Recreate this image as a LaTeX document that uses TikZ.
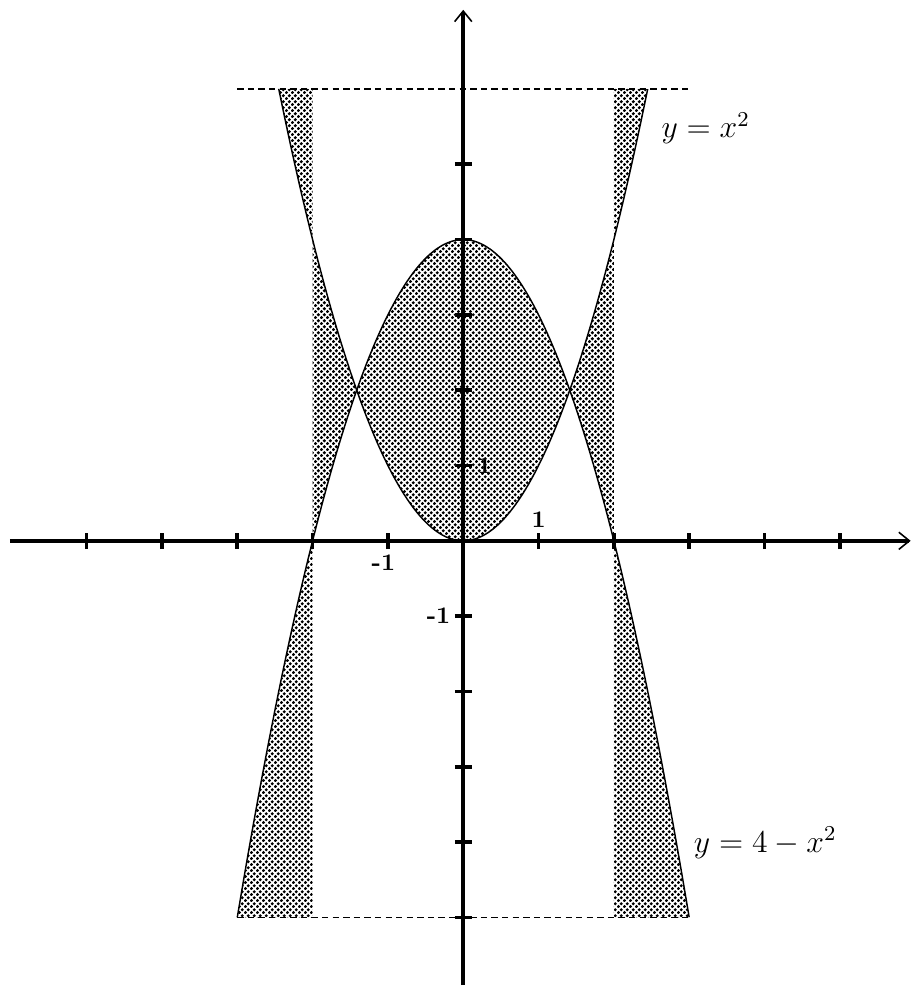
\documentclass[tikz,border=0pt]{standalone}
\usepackage{tikz}
\usetikzlibrary{arrows.meta, patterns}

% dense checker of dots, as in the shaded regions
\pgfdeclarepatternformonly{checkDots}{\pgfqpoint{0pt}{0pt}}{\pgfqpoint{2.2pt}{2.2pt}}{\pgfqpoint{2.2pt}{2.2pt}}{%
    \pgfpathcircle{\pgfqpoint{0.55pt}{0.55pt}}{0.67pt}
    \pgfpathcircle{\pgfqpoint{1.65pt}{1.65pt}}{0.67pt}
    \pgfusepath{fill}
}

\begin{document}
\begin{tikzpicture}[
        axisLine/.style={
            line width=1.5pt, -{Straight Barb[length=4pt, width=6.5pt, line width=0.6pt]}
        },
        tickMark/.style={line width=1.4pt},
        curveLine/.style={line width=0.55pt},
        guideLine/.style={line width=0.65pt, dash pattern=on 2.4pt off 1.6pt},
        shadeArea/.style={pattern=checkDots},
        tickLabel/.style={font=\small\bfseries, inner sep=1pt},
        eqLabel/.style={font=\large}
    ]
        \useasboundingbox (-6.15,-5.95) rectangle (5.94,7.18);

        % Shaded regions
        \fill[shadeArea] plot[domain=-1.4142:1.4142, smooth, samples=30] (\x,{\x*\x})
            -- plot[domain=1.4142:-1.4142, smooth, samples=30] (\x,{4-\x*\x}) -- cycle;
        \foreach \s in {1,-1} {
            \begin{scope}[xscale=\s]
                \fill[shadeArea] plot[domain=1.4142:2, smooth, samples=12] (\x,{4-\x*\x})
                    -- plot[domain=2:1.4142, smooth, samples=12] (\x,{\x*\x}) -- cycle;
                \fill[shadeArea] (2,4) -- (2,6) -- (2.4495,6)
                    -- plot[domain=2.4495:2, smooth, samples=12] (\x,{\x*\x}) -- cycle;
                \fill[shadeArea] (2,0) -- plot[domain=2:3, smooth, samples=12] (\x,{4-\x*\x})
                    -- (2,-5) -- cycle;
            \end{scope}
        }

        % Curves
        \draw[curveLine] plot[domain=-2.4495:2.4495, smooth, samples=60] (\x,{\x*\x});
        \draw[curveLine] plot[domain=-3:3, smooth, samples=60] (\x,{4-\x*\x});

        % Dashed limits
        \coordinate (topLeft) at (-3,6);
        \coordinate (topRight) at (3,6);
        \coordinate (botLeft) at (-3,-5);
        \coordinate (botRight) at (3,-5);
        \draw[guideLine] (topLeft) -- (topRight);
        \draw[guideLine] (botLeft) -- (botRight);

        % Axes
        \coordinate (xStart) at (-6.02,0);
        \coordinate (xEnd) at (5.94,0);
        \coordinate (yStart) at (0,-5.9);
        \coordinate (yEnd) at (0,7.05);
        \draw[axisLine] (xStart) -- (xEnd);
        \draw[axisLine] (yStart) -- (yEnd);
        \foreach \i in {-5,...,5}
            \draw[tickMark] (\i,-0.11) -- (\i,0.11);
        \foreach \j in {-5,...,5}
            \draw[tickMark] (-0.11,\j) -- (0.11,\j);

        % Tick labels
        \node (xOne) [tickLabel, above] at (1,0.14) {1};
        \node (xMinusOne) [tickLabel, below] at (-1.06,-0.14) {-1};
        \node (yOne) [tickLabel, right] at (0.15,1) {1};
        \node (yMinusOne) [tickLabel, left] at (-0.13,-1) {-1};

        % Curve labels
        \node (upLabel) [eqLabel] at (3.22,5.48) {$y=x^2$};
        \node (downLabel) [eqLabel] at (4.01,-4.01) {$y=4-x^2$};
\end{tikzpicture}
\end{document}
